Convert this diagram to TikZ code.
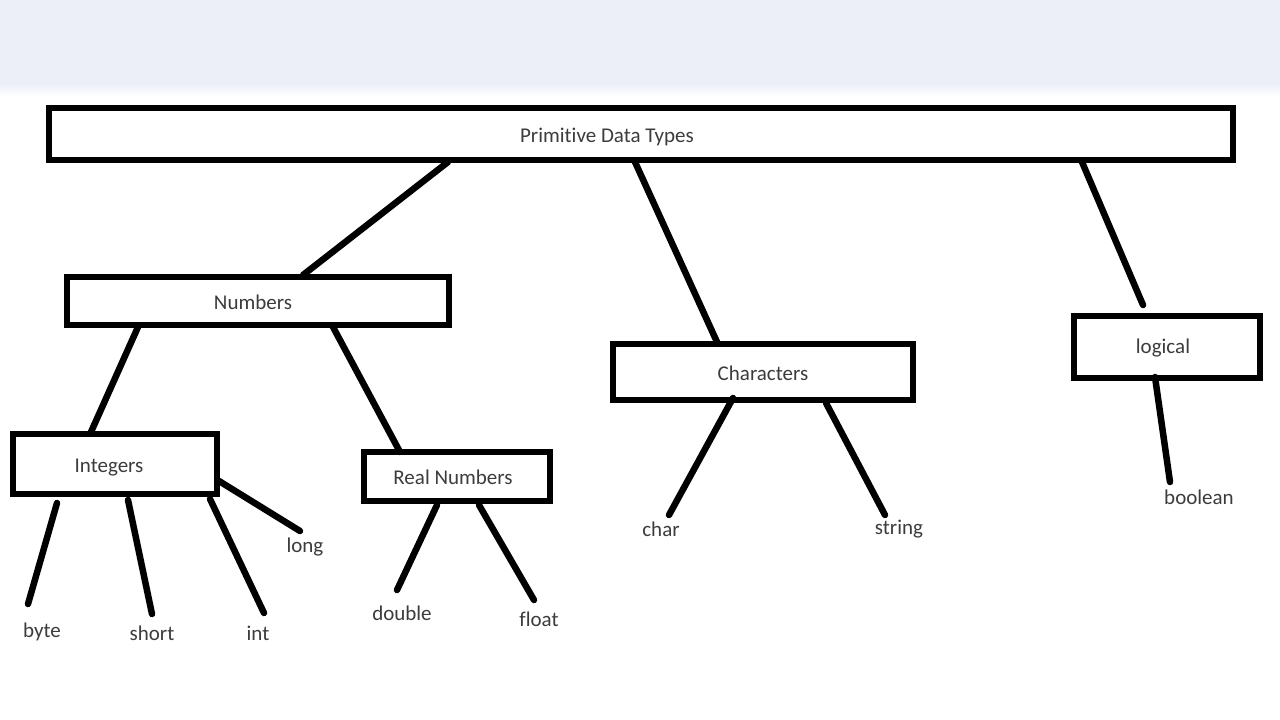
\documentclass[tikz,border=0pt]{standalone}
\usepackage{fontspec}
\setmainfont[Ligatures=NoCommon]{Carlito}
\usetikzlibrary{calc}
\definecolor{band}{RGB}{237,239,248}
\definecolor{txt}{RGB}{60,60,60}
\newcommand{\bt}[2]{\hspace*{#1}#2}
\tikzset{
  box/.style={draw=black, line width=6pt, rectangle, inner sep=0pt, outer sep=0pt, fill=white, text=txt, font=\fontsize{21}{25}\selectfont, text height=16pt, text depth=0pt},
  leaf/.style={inner sep=0pt, text=txt, font=\fontsize{21}{25}\selectfont},
  link/.style={line width=6.5pt, line cap=round, black}
}
\begin{document}
\begin{tikzpicture}[x=1pt,y=-1pt]
\useasboundingbox (0,0) rectangle (1280,720);
\fill[white] (0,0) rectangle (1280,720);
\fill[band] (0,0) rectangle (1280,84);
\shade[top color=band, bottom color=white] (0,84) rectangle (1280,96);

% boxes
\node[box, minimum width=1184pt, minimum height=52pt] (prim) at (641,134) {\bt{-68pt}{Primitive Data Types}};
\node[box, minimum width=382pt, minimum height=48pt] (num) at (258,301) {\bt{-10pt}{Numbers}};
\node[box, minimum width=204pt, minimum height=60pt] (ints) at (115,464) {\bt{-12pt}{Integers}};
\node[box, minimum width=186pt, minimum height=49pt] (real) at (457,476.5) {\bt{-8pt}{Real Numbers}};
\node[box, minimum width=300pt, minimum height=56pt] (chars) at (763,372) {\bt{0pt}{Characters}};
\node[box, minimum width=186pt, minimum height=62pt, text height=12pt] (logi) at (1167,347) {\bt{-8pt}{logical}};

% leaves
\node[leaf] (byte) at (42,632) {byte};
\node[leaf] (short) at (152,633) {short};
\node[leaf] (int) at (258,633) {int};
\node[leaf] (long) at (305,547) {long};
\node[leaf] (double) at (402,613) {double};
\node[leaf] (float) at (539,619) {float};
\node[leaf] (char) at (661,529) {char};
\node[leaf] (string) at (899,529) {string};
\node[leaf] (boolean) at (1199,497) {boolean};

\coordinate (logend) at ($(logi.north west)+(69,-11)$);

% connectors
\draw[link] ($(prim.south west)+(399,2)$) -- ($(num.north west)+(236,-2)$);
\draw[link] ($(prim.south west)+(586,2)$) -- ($(chars.north west)+(104,-2)$);
\draw[link] ($(prim.south west)+(1033,2)$) -- (logend);
\draw[link] ($(num.south west)+(71,2)$) -- ($(ints.north west)+(78,-2)$);
\draw[link] ($(num.south west)+(266,2)$) -- ($(real.north west)+(36,0)$);
\draw[link] ($(ints.south west)+(44,9)$) -- ($(byte.center)+(-14,-28)$);
\draw[link] ($(ints.south west)+(115,6)$) -- ($(short.center)+(0,-19)$);
\draw[link] ($(ints.south west)+(197,5)$) -- ($(int.center)+(6,-20)$);
\draw[link] ($(ints.south west)+(206,-13)$) -- ($(long.center)+(-5,-16)$);
\draw[link] ($(real.south west)+(73,4)$) -- ($(double.center)+(-5,-23)$);
\draw[link] ($(real.south west)+(115,4)$) -- ($(float.center)+(-5,-19)$);
\draw[link] ($(chars.south west)+(120,-2)$) -- ($(char.center)+(8,-14)$);
\draw[link] ($(chars.south west)+(213,3)$) -- ($(string.center)+(-14,-14)$);
\draw[link] ($(logi.south west)+(81,-1)$) -- ($(boolean.center)+(-29,-15)$);
\end{tikzpicture}
\end{document}
